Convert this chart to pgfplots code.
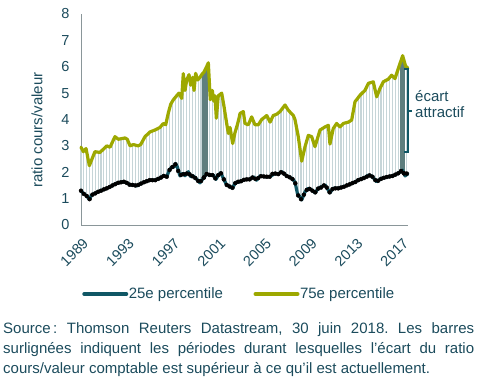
\documentclass[border=0pt]{standalone}
\usepackage{fontspec}
\setmainfont{Liberation Sans}
\usepackage{pgfplots}
\usepackage{pgfplotstable}
\pgfplotsset{compat=1.18}
\definecolor{teal25}{HTML}{105765}
\definecolor{olive75}{HTML}{9DA800}
\definecolor{txt}{HTML}{1B4B5C}
\definecolor{barlight}{HTML}{C6D5D8}
\definecolor{bardark}{HTML}{5E7E7E}
\definecolor{axgray}{HTML}{8A9699}

\pgfplotstableread{
x y
1989.00 2.95
1989.20 2.78
1989.44 2.90
1989.73 2.25
1990.22 2.78
1990.66 2.75
1991.25 3.00
1991.54 2.95
1991.97 3.35
1992.27 3.25
1992.85 3.30
1993.05 3.25
1993.29 3.00
1993.58 3.05
1994.00 3.00
1994.22 3.05
1994.60 3.35
1995.04 3.53
1995.47 3.60
1995.91 3.70
1996.20 3.85
1996.41 3.80
1996.64 4.25
1996.85 4.58
1997.08 4.75
1997.37 4.90
1997.57 5.00
1997.81 4.80
1997.95 5.74
1998.10 5.10
1998.25 5.50
1998.45 5.70
1998.60 5.30
1998.77 5.60
1998.89 5.10
1999.03 5.75
1999.21 5.50
1999.41 5.60
1999.56 5.70
1999.76 5.80
1999.99 6.00
2000.14 6.15
2000.31 4.75
2000.49 5.10
2000.61 4.70
2000.72 4.90
2000.84 4.05
2001.01 4.90
2001.31 5.00
2001.51 4.50
2001.69 4.00
2001.89 3.47
2002.04 3.70
2002.27 3.09
2002.47 3.50
2002.68 3.80
2002.85 4.10
2002.91 4.23
2003.20 4.30
2003.35 3.85
2003.64 3.80
2003.93 4.10
2004.22 3.80
2004.51 3.80
2004.81 4.00
2005.25 4.15
2005.54 3.90
2005.82 4.15
2006.12 4.20
2006.41 4.30
2006.85 4.55
2007.14 4.35
2007.58 4.15
2007.72 4.00
2008.01 3.35
2008.31 2.42
2008.60 2.97
2008.89 3.40
2009.18 3.35
2009.47 2.97
2009.91 3.60
2010.35 3.72
2010.64 3.78
2010.78 3.07
2011.07 3.66
2011.37 3.85
2011.66 3.72
2011.95 3.85
2012.39 3.90
2012.68 3.98
2012.97 4.67
2013.41 4.92
2013.85 5.11
2014.14 5.37
2014.57 5.43
2014.87 4.86
2015.16 5.18
2015.45 5.43
2015.89 5.53
2016.18 5.68
2016.47 5.55
2016.76 5.93
2017.14 6.42
2017.40 6.02
2017.60 5.95
}\pupper

\pgfplotstableread{
x y
1989.00 1.30
1989.20 1.20
1989.50 1.10
1989.73 0.97
1989.94 1.14
1990.22 1.20
1990.66 1.29
1991.25 1.39
1991.68 1.48
1991.97 1.55
1992.27 1.60
1992.71 1.64
1993.00 1.60
1993.29 1.52
1993.58 1.52
1993.87 1.48
1994.16 1.55
1994.60 1.64
1995.04 1.70
1995.47 1.70
1995.91 1.77
1996.20 1.87
1996.50 1.83
1996.73 2.08
1996.94 2.20
1997.14 2.20
1997.29 2.33
1997.43 2.20
1997.66 1.86
1997.90 1.96
1998.10 1.87
1998.39 2.02
1998.60 1.83
1998.83 1.86
1999.12 1.73
1999.41 1.60
1999.70 1.77
1999.99 1.93
2000.28 1.89
2000.58 1.89
2000.81 1.73
2001.01 1.89
2001.22 1.98
2001.45 1.77
2001.74 1.52
2002.04 1.45
2002.27 1.41
2002.47 1.58
2002.77 1.64
2002.91 1.64
2003.35 1.73
2003.78 1.73
2004.07 1.83
2004.36 1.70
2004.66 1.86
2005.10 1.83
2005.54 1.83
2005.97 1.96
2006.26 1.93
2006.56 2.02
2006.99 1.86
2007.43 1.77
2007.72 1.64
2007.93 1.20
2008.31 0.95
2008.60 1.26
2008.89 1.39
2009.18 1.33
2009.47 1.22
2009.76 1.39
2010.35 1.52
2010.78 1.22
2011.07 1.39
2011.51 1.39
2011.95 1.45
2012.39 1.52
2012.83 1.60
2013.26 1.70
2013.70 1.77
2014.14 1.89
2014.43 1.86
2014.87 1.64
2015.31 1.77
2015.89 1.83
2016.33 1.87
2016.76 1.96
2017.14 2.08
2017.35 1.86
2017.60 1.94
}\plower

\pgfplotstableread{
x lo hi hl
1989.00 1.30 2.95 0
1989.25 1.18 2.80 0
1989.50 1.10 2.77 0
1989.75 0.98 2.27 0
1990.00 1.15 2.54 0
1990.25 1.20 2.78 0
1990.50 1.26 2.76 0
1990.75 1.30 2.79 0
1991.00 1.35 2.90 0
1991.25 1.39 3.00 0
1991.50 1.44 2.96 0
1991.75 1.50 3.15 0
1992.00 1.55 3.34 0
1992.25 1.60 3.25 0
1992.50 1.62 3.27 0
1992.75 1.64 3.29 0
1993.00 1.60 3.26 0
1993.25 1.53 3.04 0
1993.50 1.52 3.04 0
1993.75 1.50 3.03 0
1994.00 1.52 3.00 0
1994.25 1.57 3.08 0
1994.50 1.62 3.27 0
1994.75 1.66 3.41 0
1995.00 1.70 3.51 0
1995.25 1.70 3.56 0
1995.50 1.70 3.60 0
1995.75 1.75 3.66 0
1996.00 1.80 3.75 0
1996.25 1.86 3.84 0
1996.50 1.83 3.97 0
1996.75 2.09 4.42 0
1997.00 2.20 4.69 0
1997.25 2.30 4.84 0
1997.50 2.05 4.96 0
1997.75 1.90 4.88 0
1998.00 1.93 5.50 0
1998.25 1.95 5.50 0
1998.50 1.92 5.57 0
1998.75 1.85 5.56 0
1999.00 1.78 5.60 0
1999.25 1.67 5.52 0
1999.50 1.67 5.66 0
1999.75 1.80 5.80 1
2000.00 1.93 6.00 1
2000.25 1.90 5.20 0
2000.50 1.89 5.07 0
2000.75 1.77 4.70 0
2001.00 1.89 4.85 0
2001.25 1.96 4.98 0
2001.50 1.73 4.53 0
2001.75 1.52 3.85 0
2002.00 1.46 3.64 0
2002.25 1.41 3.14 0
2002.50 1.59 3.55 0
2002.75 1.64 3.92 0
2003.00 1.66 4.25 0
2003.25 1.71 4.15 0
2003.50 1.73 3.83 0
2003.75 1.73 3.92 0
2004.00 1.80 4.03 0
2004.25 1.75 3.80 0
2004.50 1.78 3.80 0
2004.75 1.85 3.96 0
2005.00 1.84 4.07 0
2005.25 1.83 4.15 0
2005.50 1.83 3.93 0
2005.75 1.94 4.09 0
2006.00 1.95 4.18 0
2006.25 1.93 4.24 0
2006.50 2.00 4.35 0
2006.75 1.95 4.49 0
2007.00 1.86 4.45 0
2007.25 1.81 4.30 0
2007.50 1.74 4.19 0
2007.75 1.58 3.95 0
2008.00 1.12 3.37 0
2008.25 0.98 2.60 0
2008.50 1.15 2.77 0
2008.75 1.33 3.20 0
2009.00 1.37 3.38 0
2009.25 1.30 3.26 0
2009.50 1.24 3.01 0
2009.75 1.38 3.37 0
2010.00 1.42 3.62 0
2010.25 1.50 3.69 0
2010.50 1.42 3.75 0
2010.75 1.24 3.20 0
2011.00 1.36 3.52 0
2011.25 1.39 3.77 0
2011.50 1.39 3.79 0
2011.75 1.42 3.76 0
2012.00 1.45 3.85 0
2012.25 1.50 3.88 0
2012.50 1.54 3.93 0
2012.75 1.59 4.15 0
2013.00 1.63 4.68 0
2013.25 1.70 4.83 0
2013.50 1.74 4.96 0
2013.75 1.78 5.07 0
2014.00 1.83 5.24 0
2014.25 1.88 5.38 0
2014.50 1.83 5.42 0
2014.75 1.70 5.09 0
2015.00 1.68 5.01 0
2015.25 1.75 5.26 0
2015.50 1.79 5.44 0
2015.75 1.82 5.50 0
2016.00 1.84 5.59 0
2016.25 1.86 5.65 0
2016.50 1.91 5.60 0
2016.75 1.96 5.92 0
2017.00 2.04 6.23 1
2017.25 1.96 6.22 1
2017.50 1.95 5.95 0
}\pbars

\begin{document}
\begin{tikzpicture}[x=1bp,y=1bp]
\path[use as bounding box] (0,0) rectangle (481,380);
\begin{axis}[
  at={(81bp,155bp)}, anchor=south west,
  scale only axis, width=327bp, height=211bp,
  xmin=1989, xmax=2017.61, ymin=0, ymax=8,
  axis x line=bottom, axis y line=left,
  axis line style={-, draw=axgray, line width=0.9bp},
  major tick length=0pt,
  xtick={1989,1993,...,2017},
  ytick={0,1,...,8},
  /pgf/number format/assume math mode=true,
  /pgf/number format/1000 sep={},
  tick label style={font=\fontsize{14.5bp}{17bp}\selectfont, text=txt},
  yticklabel style={xshift=-8bp},
  xticklabel style={xshift=1bp, yshift=-12bp, rotate=45, anchor=north east, inner sep=0pt},
  clip=false,
  legend columns=2,
  legend style={at={(0.4817,-0.327)}, anchor=center, draw=none, fill=none,
    font=\fontsize{15bp}{18bp}\selectfont, text=txt,
    nodes={inner sep=0.5bp},
    /tikz/every even column/.append style={column sep=30bp}},
  legend image code/.code={\draw[#1, line width=4bp] (0bp,0bp) -- (42bp,0bp);},
]
\addplot[forget plot, only marks, mark=none,
  error bars/.cd, y dir=plus, y explicit, error mark=none,
  error bar style={line width=1.1bp, color=barlight}]
  table[x=x, y=lo, y error expr=\thisrow{hi}-\thisrow{lo}] {\pbars};
\addplot[forget plot, only marks, mark=none,
  restrict expr to domain={\thisrow{hl}}{0.5:1.5},
  error bars/.cd, y dir=plus, y explicit, error mark=none,
  error bar style={line width=3bp, color=bardark}]
  table[x=x, y=lo, y error expr=\thisrow{hi}-\thisrow{lo}] {\pbars};
\addplot[teal25, line width=3.2bp, line join=round, line cap=round] table[x=x,y=y] {\plower};
\addlegendentry{25e percentile}
\addplot[olive75, line width=3.2bp, line join=round, line cap=round] table[x=x,y=y] {\pupper};
\addlegendentry{75e percentile}
\draw[teal25, line width=2bp] (axis cs:2017.28,5.93) -- (axis cs:2017.63,5.93) -- (axis cs:2017.63,2.75) -- (axis cs:2017.28,2.75);
\draw[teal25, line width=2bp] (axis cs:2017.63,4.33) -- (axis cs:2017.98,4.33);
\end{axis}
\node[rotate=90, text=txt, font=\fontsize{15bp}{18bp}\selectfont] at (37,250) {ratio cours/valeur};
\node[anchor=west, align=left, inner sep=0pt, text=txt, font=\fontsize{15bp}{16bp}\selectfont] at (415,276) {écart\\attractif};
\node[anchor=base west, text width=471bp, align=justify, inner sep=0pt, text=txt,
  font=\fontsize{15bp}{20bp}\selectfont] at (3,47)
  {\frenchspacing\hyphenpenalty=10000 Source\,: Thomson Reuters Datastream, 30 juin 2018. Les barres\linebreak surlignées indiquent les périodes durant lesquelles l’écart du ratio\linebreak cours/valeur comptable est supérieur à ce qu’il est actuellement.};
\end{tikzpicture}
\end{document}
